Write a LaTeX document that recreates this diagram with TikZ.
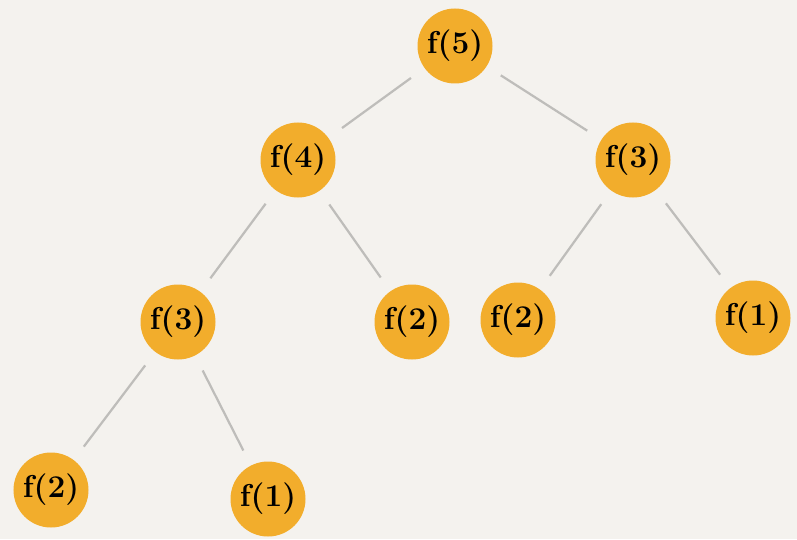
\documentclass[tikz,border=0pt]{standalone}
\usepackage{tikz}
\definecolor{paper}{HTML}{F4F2EE}
\definecolor{callfill}{HTML}{F2AD2C}
\definecolor{branch}{HTML}{BEBDBA}
\begin{document}
\begin{tikzpicture}[x=0.03cm, y=-0.03cm]
			\tikzset{
				call/.style={circle, fill=callfill, inner sep=0, minimum size=2.25cm,
						font=\bfseries\fontsize{27}{27}\selectfont},
				branch/.style={draw=branch, line width=1.9pt, shorten <=0.5cm, shorten >=0.5cm},
			}
			\fill[paper] (0,0) rectangle (797,539);
			\useasboundingbox (0,0) rectangle (797,539);
			% calls
			\node[call] (f5) at (455,46) {f(5)};
			\node[call] (f4) at (298,160) {f(4)};
			\node[call] (f3r) at (633,160) {f(3)};
			\node[call] (f3l) at (178,322) {f(3)};
			\node[call] (f2m) at (412,322) {f(2)};
			\node[call] (f2r) at (518,320) {f(2)};
			\node[call] (f1r) at (753,318) {f(1)};
			\node[call] (f2l) at (51,490) {f(2)};
			\node[call] (f1l) at (268,499) {f(1)};
			% branches
			\foreach \a/\b in {f5/f4, f5/f3r, f4/f3l, f4/f2m, f3r/f2r, f3r/f1r, f3l/f2l, f3l/f1l}
				{
					\draw[branch] (\a) -- (\b);
				}
		\end{tikzpicture}
\end{document}
